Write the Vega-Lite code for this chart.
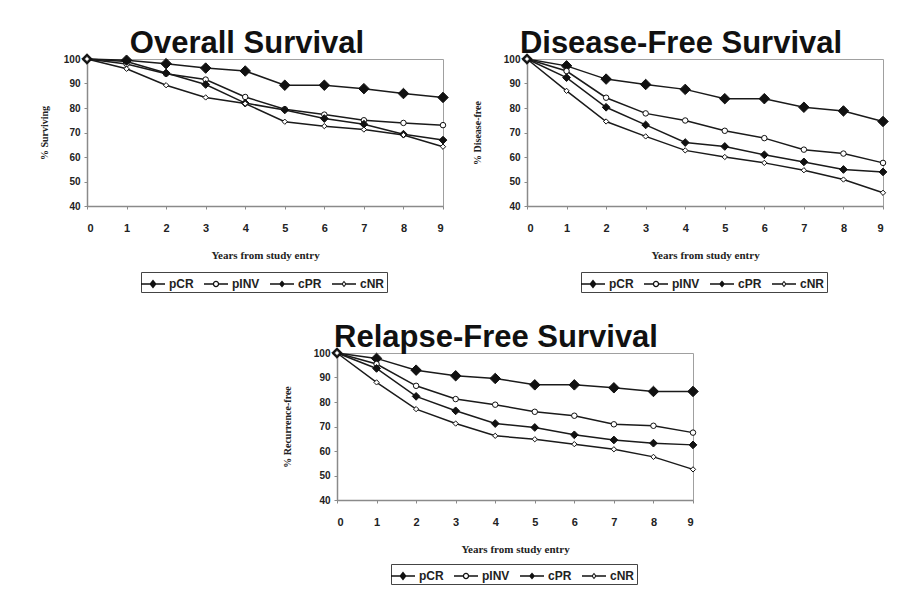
{
  "$schema": "https://vega.github.io/schema/vega-lite/v6.json",
  "background": "white",
  "padding": {"top": 27, "left": 38, "right": 5, "bottom": 0},
  "datasets": {
    "surv": [
      {"panel": "OS", "series": "pCR", "year": 0, "value": 100},
      {"panel": "OS", "series": "pCR", "year": 1, "value": 99.5},
      {"panel": "OS", "series": "pCR", "year": 2, "value": 98.1},
      {"panel": "OS", "series": "pCR", "year": 3, "value": 96.3},
      {"panel": "OS", "series": "pCR", "year": 4, "value": 95.1},
      {"panel": "OS", "series": "pCR", "year": 5, "value": 89.3},
      {"panel": "OS", "series": "pCR", "year": 6, "value": 89.3},
      {"panel": "OS", "series": "pCR", "year": 7, "value": 87.9},
      {"panel": "OS", "series": "pCR", "year": 8, "value": 85.9},
      {"panel": "OS", "series": "pCR", "year": 9, "value": 84.3},
      {"panel": "OS", "series": "pINV", "year": 0, "value": 100},
      {"panel": "OS", "series": "pINV", "year": 1, "value": 98},
      {"panel": "OS", "series": "pINV", "year": 2, "value": 94},
      {"panel": "OS", "series": "pINV", "year": 3, "value": 91.6},
      {"panel": "OS", "series": "pINV", "year": 4, "value": 84.5},
      {"panel": "OS", "series": "pINV", "year": 5, "value": 79.5},
      {"panel": "OS", "series": "pINV", "year": 6, "value": 77.3},
      {"panel": "OS", "series": "pINV", "year": 7, "value": 75},
      {"panel": "OS", "series": "pINV", "year": 8, "value": 73.9},
      {"panel": "OS", "series": "pINV", "year": 9, "value": 73},
      {"panel": "OS", "series": "cPR", "year": 0, "value": 100},
      {"panel": "OS", "series": "cPR", "year": 1, "value": 99},
      {"panel": "OS", "series": "cPR", "year": 2, "value": 94.3},
      {"panel": "OS", "series": "cPR", "year": 3, "value": 89.6},
      {"panel": "OS", "series": "cPR", "year": 4, "value": 82},
      {"panel": "OS", "series": "cPR", "year": 5, "value": 79.2},
      {"panel": "OS", "series": "cPR", "year": 6, "value": 75.7},
      {"panel": "OS", "series": "cPR", "year": 7, "value": 73.4},
      {"panel": "OS", "series": "cPR", "year": 8, "value": 69.3},
      {"panel": "OS", "series": "cPR", "year": 9, "value": 66.9},
      {"panel": "OS", "series": "cNR", "year": 0, "value": 100},
      {"panel": "OS", "series": "cNR", "year": 1, "value": 96},
      {"panel": "OS", "series": "cNR", "year": 2, "value": 89.3},
      {"panel": "OS", "series": "cNR", "year": 3, "value": 84.3},
      {"panel": "OS", "series": "cNR", "year": 4, "value": 81.8},
      {"panel": "OS", "series": "cNR", "year": 5, "value": 74.4},
      {"panel": "OS", "series": "cNR", "year": 6, "value": 72.6},
      {"panel": "OS", "series": "cNR", "year": 7, "value": 71.2},
      {"panel": "OS", "series": "cNR", "year": 8, "value": 69},
      {"panel": "OS", "series": "cNR", "year": 9, "value": 64.2},

      {"panel": "DFS", "series": "pCR", "year": 0, "value": 100},
      {"panel": "DFS", "series": "pCR", "year": 1, "value": 97.2},
      {"panel": "DFS", "series": "pCR", "year": 2, "value": 91.8},
      {"panel": "DFS", "series": "pCR", "year": 3, "value": 89.6},
      {"panel": "DFS", "series": "pCR", "year": 4, "value": 87.6},
      {"panel": "DFS", "series": "pCR", "year": 5, "value": 83.8},
      {"panel": "DFS", "series": "pCR", "year": 6, "value": 83.8},
      {"panel": "DFS", "series": "pCR", "year": 7, "value": 80.3},
      {"panel": "DFS", "series": "pCR", "year": 8, "value": 78.8},
      {"panel": "DFS", "series": "pCR", "year": 9, "value": 74.5},
      {"panel": "DFS", "series": "pINV", "year": 0, "value": 100},
      {"panel": "DFS", "series": "pINV", "year": 1, "value": 95.1},
      {"panel": "DFS", "series": "pINV", "year": 2, "value": 84.2},
      {"panel": "DFS", "series": "pINV", "year": 3, "value": 77.8},
      {"panel": "DFS", "series": "pINV", "year": 4, "value": 74.9},
      {"panel": "DFS", "series": "pINV", "year": 5, "value": 70.7},
      {"panel": "DFS", "series": "pINV", "year": 6, "value": 67.7},
      {"panel": "DFS", "series": "pINV", "year": 7, "value": 63},
      {"panel": "DFS", "series": "pINV", "year": 8, "value": 61.4},
      {"panel": "DFS", "series": "pINV", "year": 9, "value": 57.6},
      {"panel": "DFS", "series": "cPR", "year": 0, "value": 100},
      {"panel": "DFS", "series": "cPR", "year": 1, "value": 92.4},
      {"panel": "DFS", "series": "cPR", "year": 2, "value": 80.3},
      {"panel": "DFS", "series": "cPR", "year": 3, "value": 73.1},
      {"panel": "DFS", "series": "cPR", "year": 4, "value": 65.9},
      {"panel": "DFS", "series": "cPR", "year": 5, "value": 64.3},
      {"panel": "DFS", "series": "cPR", "year": 6, "value": 60.9},
      {"panel": "DFS", "series": "cPR", "year": 7, "value": 58},
      {"panel": "DFS", "series": "cPR", "year": 8, "value": 54.9},
      {"panel": "DFS", "series": "cPR", "year": 9, "value": 53.9},
      {"panel": "DFS", "series": "cNR", "year": 0, "value": 100},
      {"panel": "DFS", "series": "cNR", "year": 1, "value": 87},
      {"panel": "DFS", "series": "cNR", "year": 2, "value": 74.5},
      {"panel": "DFS", "series": "cNR", "year": 3, "value": 68.4},
      {"panel": "DFS", "series": "cNR", "year": 4, "value": 62.7},
      {"panel": "DFS", "series": "cNR", "year": 5, "value": 60},
      {"panel": "DFS", "series": "cNR", "year": 6, "value": 57.6},
      {"panel": "DFS", "series": "cNR", "year": 7, "value": 54.6},
      {"panel": "DFS", "series": "cNR", "year": 8, "value": 50.8},
      {"panel": "DFS", "series": "cNR", "year": 9, "value": 45.4},

      {"panel": "RFS", "series": "pCR", "year": 0, "value": 100},
      {"panel": "RFS", "series": "pCR", "year": 1, "value": 97.8},
      {"panel": "RFS", "series": "pCR", "year": 2, "value": 93},
      {"panel": "RFS", "series": "pCR", "year": 3, "value": 90.7},
      {"panel": "RFS", "series": "pCR", "year": 4, "value": 89.6},
      {"panel": "RFS", "series": "pCR", "year": 5, "value": 87},
      {"panel": "RFS", "series": "pCR", "year": 6, "value": 87},
      {"panel": "RFS", "series": "pCR", "year": 7, "value": 85.8},
      {"panel": "RFS", "series": "pCR", "year": 8, "value": 84.3},
      {"panel": "RFS", "series": "pCR", "year": 9, "value": 84.3},
      {"panel": "RFS", "series": "pINV", "year": 0, "value": 100},
      {"panel": "RFS", "series": "pINV", "year": 1, "value": 95.5},
      {"panel": "RFS", "series": "pINV", "year": 2, "value": 86.6},
      {"panel": "RFS", "series": "pINV", "year": 3, "value": 81.2},
      {"panel": "RFS", "series": "pINV", "year": 4, "value": 78.9},
      {"panel": "RFS", "series": "pINV", "year": 5, "value": 76},
      {"panel": "RFS", "series": "pINV", "year": 6, "value": 74.4},
      {"panel": "RFS", "series": "pINV", "year": 7, "value": 70.9},
      {"panel": "RFS", "series": "pINV", "year": 8, "value": 70.3},
      {"panel": "RFS", "series": "pINV", "year": 9, "value": 67.5},
      {"panel": "RFS", "series": "cPR", "year": 0, "value": 100},
      {"panel": "RFS", "series": "cPR", "year": 1, "value": 93.7},
      {"panel": "RFS", "series": "cPR", "year": 2, "value": 82.3},
      {"panel": "RFS", "series": "cPR", "year": 3, "value": 76.4},
      {"panel": "RFS", "series": "cPR", "year": 4, "value": 71.2},
      {"panel": "RFS", "series": "cPR", "year": 5, "value": 69.6},
      {"panel": "RFS", "series": "cPR", "year": 6, "value": 66.6},
      {"panel": "RFS", "series": "cPR", "year": 7, "value": 64.5},
      {"panel": "RFS", "series": "cPR", "year": 8, "value": 63.2},
      {"panel": "RFS", "series": "cPR", "year": 9, "value": 62.5},
      {"panel": "RFS", "series": "cNR", "year": 0, "value": 100},
      {"panel": "RFS", "series": "cNR", "year": 1, "value": 88},
      {"panel": "RFS", "series": "cNR", "year": 2, "value": 77.1},
      {"panel": "RFS", "series": "cNR", "year": 3, "value": 71.2},
      {"panel": "RFS", "series": "cNR", "year": 4, "value": 66.2},
      {"panel": "RFS", "series": "cNR", "year": 5, "value": 64.8},
      {"panel": "RFS", "series": "cNR", "year": 6, "value": 62.8},
      {"panel": "RFS", "series": "cNR", "year": 7, "value": 60.7},
      {"panel": "RFS", "series": "cNR", "year": 8, "value": 57.6},
      {"panel": "RFS", "series": "cNR", "year": 9, "value": 52.5}
    ]
  },
  "config": {
    "view": {"stroke": "#a0a0a0", "strokeWidth": 1},
    "title": {"font": "Liberation Sans", "fontWeight": "bold", "fontSize": 31, "color": "#111", "anchor": "middle", "offset": -8},
    "axis": {
      "grid": false,
      "domainColor": "#8a8a8a",
      "domainWidth": 1.5,
      "tickColor": "#8a8a8a",
      "tickSize": 3,
      "labelFont": "Liberation Sans",
      "labelFontWeight": "bold",
      "labelColor": "#222",
      "titleFont": "Liberation Serif",
      "titleFontWeight": "bold",
      "titleColor": "#222"
    },
    "legend": {
      "orient": "none",
      "direction": "horizontal",
      "title": null,
      "strokeColor": "#444",
      "padding": 2,
      "symbolSize": 400,
      "symbolOpacity": 1,
      "symbolFillColor": "#111",
      "symbolStrokeWidth": 0,
      "labelFont": "Liberation Sans",
      "labelFontWeight": "bold",
      "labelFontSize": 12,
      "labelColor": "#222",
      "labelOffset": 6,
      "columnPadding": 10
    }
  },
  "resolve": {"scale": {"shape": "independent", "fill": "independent", "size": "independent"}, "legend": {"shape": "independent", "fill": "independent", "size": "independent"}},
  "vconcat": [
    {
      "resolve": {"scale": {"shape": "independent", "fill": "independent", "size": "independent"}, "legend": {"shape": "independent", "fill": "independent", "size": "independent"}},
      "hconcat": [
        {
          "width": 356, "height": 147,
          "title": {"text": "Overall Survival", "dx": -18},
          "data": {"name": "surv"},
          "transform": [{"filter": "datum.panel === 'OS'"}],
          "encoding": {
            "x": {"field": "year", "type": "quantitative", "scale": {"domain": [0, 9], "nice": false},
                  "axis": {"title": "Years from study entry", "values": [0,1,2,3,4,5,6,7,8,9], "format": "d", "labelFontSize": 11, "labelPadding": 13, "titleFontSize": 11, "titlePadding": 16}},
            "y": {"field": "value", "type": "quantitative", "scale": {"domain": [40, 100], "nice": false},
                  "axis": {"title": "% Surviving", "values": [40,50,60,70,80,90,100], "labelFontSize": 10, "labelPadding": 4, "titleFontSize": 10, "titlePadding": 14}}
          },
          "resolve": {"scale": {"shape": "independent"}, "legend": {"shape": "independent"}},
          "layer": [
            {"mark": {"type": "line", "stroke": "#1a1a1a", "strokeWidth": 1.5}, "encoding": {"detail": {"field": "series"}}},
            {"mark": {"type": "point", "filled": true, "stroke": "#111", "strokeWidth": 1, "opacity": 1},
             "encoding": {
               "shape": {"field": "series", "type": "nominal", "scale": {"domain": ["pCR","pINV","cPR","cNR"], "range": ["diamond","circle","diamond","diamond"]}, "legend": null},
               "fill": {"field": "series", "type": "nominal", "scale": {"domain": ["pCR","pINV","cPR","cNR"], "range": ["#111","#fff","#111","#fff"]}, "legend": null},
               "size": {"field": "series", "type": "nominal", "scale": {"type": "ordinal", "domain": ["pCR","pINV","cPR","cNR"], "range": [110, 30, 60, 28]}, "legend": null}
             }},
            {"mark": {"type": "point", "filled": true, "color": "#111", "opacity": 0},
             "encoding": {
               "shape": {"field": "series", "type": "nominal", "scale": {"domain": ["pCR","pINV","cPR","cNR"], "range": [
                 "M-1.2,-0.07L1.2,-0.07L1.2,0.07L-1.2,0.07ZM0,-0.44L0.36,0L0,0.44L-0.36,0Z",
                 "M-1.2,-0.07L-0.3,-0.07L-0.3,0.07L-1.2,0.07ZM0.3,-0.07L1.2,-0.07L1.2,0.07L0.3,0.07ZM0.32,0A0.32,0.32,0,1,1,-0.32,0A0.32,0.32,0,1,1,0.32,0ZM0.19,0A0.19,0.19,0,1,0,-0.19,0A0.19,0.19,0,1,0,0.19,0Z",
                 "M-1.2,-0.07L1.2,-0.07L1.2,0.07L-1.2,0.07ZM0,-0.36L0.3,0L0,0.36L-0.3,0Z",
                 "M-1.2,-0.07L-0.22,-0.07L-0.22,0.07L-1.2,0.07ZM0.22,-0.07L1.2,-0.07L1.2,0.07L0.22,0.07ZM0,-0.32L0.26,0L0,0.32L-0.26,0ZM0,-0.17L-0.12,0L0,0.17L0.12,0Z"]},
                         "legend": {"title": null, "orient": "none", "legendX": 54, "legendY": 213, "direction": "horizontal", "symbolOpacity": 1, "symbolFillColor": "#111"}}
             }}
          ]
        },
        {
          "width": 356, "height": 147,
          "title": {"text": "Disease-Free Survival", "dx": -24},
          "data": {"name": "surv"},
          "transform": [{"filter": "datum.panel === 'DFS'"}],
          "encoding": {
            "x": {"field": "year", "type": "quantitative", "scale": {"domain": [0, 9], "nice": false},
                  "axis": {"title": "Years from study entry", "values": [0,1,2,3,4,5,6,7,8,9], "format": "d", "labelFontSize": 11, "labelPadding": 13, "titleFontSize": 11, "titlePadding": 16}},
            "y": {"field": "value", "type": "quantitative", "scale": {"domain": [40, 100], "nice": false},
                  "axis": {"title": "% Disease-free", "values": [40,50,60,70,80,90,100], "labelFontSize": 10, "labelPadding": 4, "titleFontSize": 10, "titlePadding": 21}}
          },
          "resolve": {"scale": {"shape": "independent"}, "legend": {"shape": "independent"}},
          "layer": [
            {"mark": {"type": "line", "stroke": "#1a1a1a", "strokeWidth": 1.5}, "encoding": {"detail": {"field": "series"}}},
            {"mark": {"type": "point", "filled": true, "stroke": "#111", "strokeWidth": 1, "opacity": 1},
             "encoding": {
               "shape": {"field": "series", "type": "nominal", "scale": {"domain": ["pCR","pINV","cPR","cNR"], "range": ["diamond","circle","diamond","diamond"]}, "legend": null},
               "fill": {"field": "series", "type": "nominal", "scale": {"domain": ["pCR","pINV","cPR","cNR"], "range": ["#111","#fff","#111","#fff"]}, "legend": null},
               "size": {"field": "series", "type": "nominal", "scale": {"type": "ordinal", "domain": ["pCR","pINV","cPR","cNR"], "range": [110, 30, 60, 28]}, "legend": null}
             }},
            {"mark": {"type": "point", "filled": true, "color": "#111", "opacity": 0},
             "encoding": {
               "shape": {"field": "series", "type": "nominal", "scale": {"domain": ["pCR","pINV","cPR","cNR"], "range": [
                 "M-1.2,-0.07L1.2,-0.07L1.2,0.07L-1.2,0.07ZM0,-0.44L0.36,0L0,0.44L-0.36,0Z",
                 "M-1.2,-0.07L-0.3,-0.07L-0.3,0.07L-1.2,0.07ZM0.3,-0.07L1.2,-0.07L1.2,0.07L0.3,0.07ZM0.32,0A0.32,0.32,0,1,1,-0.32,0A0.32,0.32,0,1,1,0.32,0ZM0.19,0A0.19,0.19,0,1,0,-0.19,0A0.19,0.19,0,1,0,0.19,0Z",
                 "M-1.2,-0.07L1.2,-0.07L1.2,0.07L-1.2,0.07ZM0,-0.36L0.3,0L0,0.36L-0.3,0Z",
                 "M-1.2,-0.07L-0.22,-0.07L-0.22,0.07L-1.2,0.07ZM0.22,-0.07L1.2,-0.07L1.2,0.07L0.22,0.07ZM0,-0.32L0.26,0L0,0.32L-0.26,0ZM0,-0.17L-0.12,0L0,0.17L0.12,0Z"]},
                         "legend": {"title": null, "orient": "none", "legendX": 54, "legendY": 213, "direction": "horizontal", "symbolOpacity": 1, "symbolFillColor": "#111"}}
             }}
          ]
        }
      ],
      "spacing": 20
    },
    {
      "resolve": {"scale": {"shape": "independent", "fill": "independent", "size": "independent"}, "legend": {"shape": "independent", "fill": "independent", "size": "independent"}},
      "hconcat": [
        {
          "width": 194, "height": 10,
          "data": {"values": [{}]},
          "mark": {"type": "point", "opacity": 0},
          "encoding": {},
          "view": {"stroke": null}
        },
        {
          "width": 356, "height": 147,
          "title": {"text": "Relapse-Free Survival", "dx": -19},
          "data": {"name": "surv"},
          "transform": [{"filter": "datum.panel === 'RFS'"}],
          "encoding": {
            "x": {"field": "year", "type": "quantitative", "scale": {"domain": [0, 9], "nice": false},
                  "axis": {"title": "Years from study entry", "values": [0,1,2,3,4,5,6,7,8,9], "format": "d", "labelFontSize": 11, "labelPadding": 13, "titleFontSize": 11, "titlePadding": 16}},
            "y": {"field": "value", "type": "quantitative", "scale": {"domain": [40, 100], "nice": false},
                  "axis": {"title": "% Recurrence-free", "values": [40,50,60,70,80,90,100], "labelFontSize": 10, "labelPadding": 4, "titleFontSize": 10, "titlePadding": 21}}
          },
          "resolve": {"scale": {"shape": "independent"}, "legend": {"shape": "independent"}},
          "layer": [
            {"mark": {"type": "line", "stroke": "#1a1a1a", "strokeWidth": 1.5}, "encoding": {"detail": {"field": "series"}}},
            {"mark": {"type": "point", "filled": true, "stroke": "#111", "strokeWidth": 1, "opacity": 1},
             "encoding": {
               "shape": {"field": "series", "type": "nominal", "scale": {"domain": ["pCR","pINV","cPR","cNR"], "range": ["diamond","circle","diamond","diamond"]}, "legend": null},
               "fill": {"field": "series", "type": "nominal", "scale": {"domain": ["pCR","pINV","cPR","cNR"], "range": ["#111","#fff","#111","#fff"]}, "legend": null},
               "size": {"field": "series", "type": "nominal", "scale": {"type": "ordinal", "domain": ["pCR","pINV","cPR","cNR"], "range": [110, 30, 60, 28]}, "legend": null}
             }},
            {"mark": {"type": "point", "filled": true, "color": "#111", "opacity": 0},
             "encoding": {
               "shape": {"field": "series", "type": "nominal", "scale": {"domain": ["pCR","pINV","cPR","cNR"], "range": [
                 "M-1.2,-0.07L1.2,-0.07L1.2,0.07L-1.2,0.07ZM0,-0.44L0.36,0L0,0.44L-0.36,0Z",
                 "M-1.2,-0.07L-0.3,-0.07L-0.3,0.07L-1.2,0.07ZM0.3,-0.07L1.2,-0.07L1.2,0.07L0.3,0.07ZM0.32,0A0.32,0.32,0,1,1,-0.32,0A0.32,0.32,0,1,1,0.32,0ZM0.19,0A0.19,0.19,0,1,0,-0.19,0A0.19,0.19,0,1,0,0.19,0Z",
                 "M-1.2,-0.07L1.2,-0.07L1.2,0.07L-1.2,0.07ZM0,-0.36L0.3,0L0,0.36L-0.3,0Z",
                 "M-1.2,-0.07L-0.22,-0.07L-0.22,0.07L-1.2,0.07ZM0.22,-0.07L1.2,-0.07L1.2,0.07L0.22,0.07ZM0,-0.32L0.26,0L0,0.32L-0.26,0ZM0,-0.17L-0.12,0L0,0.17L0.12,0Z"]},
                         "legend": {"title": null, "orient": "none", "legendX": 54, "legendY": 211, "direction": "horizontal", "symbolOpacity": 1, "symbolFillColor": "#111"}}
             }}
          ]
        }
      ],
      "spacing": 0
    }
  ],
  "spacing": 28
}
